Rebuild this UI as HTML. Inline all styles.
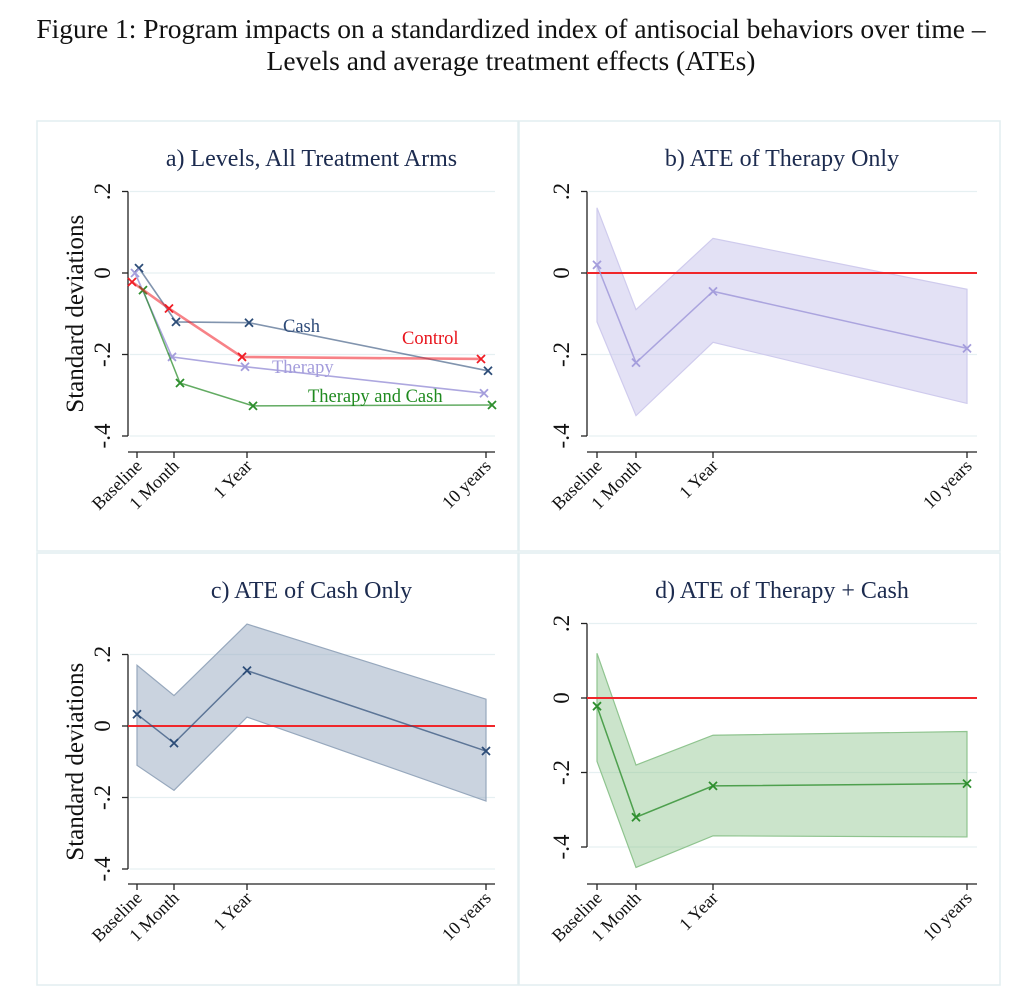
<!DOCTYPE html>
<html><head><meta charset="utf-8">
<style>
body{margin:0;background:#fff;width:1022px;height:1007px;overflow:hidden;font-family:"Liberation Serif",serif;}
#fig-title{position:absolute;left:0;top:13px;width:1022px;text-align:center;font-size:27.5px;line-height:32px;color:#111;white-space:nowrap;}
svg{position:absolute;left:0;top:0;}
</style></head>
<body>
<svg id="chart" width="1022" height="1007"></svg>
<div id="fig-title">Figure 1: Program impacts on a standardized index of antisocial behaviors over time –<br>Levels and average treatment effects (ATEs)</div>
<script>
const categories = ["Baseline","1 Month","1 Year","10 years"];
const yTicks = [0.2, 0, -0.2, -0.4];
const yTickLabels = [".2","0","-.2","-.4"];
// Panel a: levels
const controlLevels = [-0.022, -0.087, -0.206, -0.211];
const cashLevels = [0.012, -0.12, -0.122, -0.24];
const therapyLevels = [0.0, -0.206, -0.23, -0.295];
const bothLevels = [-0.042, -0.27, -0.326, -0.324];
// Panel b: therapy ATE
const therapyATE = [0.02, -0.22, -0.045, -0.185];
const therapyLo = [-0.12, -0.35, -0.17, -0.32];
const therapyHi = [0.16, -0.09, 0.085, -0.04];
// Panel c: cash ATE
const cashATE = [0.033, -0.048, 0.155, -0.07];
const cashLo = [-0.11, -0.18, 0.025, -0.21];
const cashHi = [0.17, 0.085, 0.285, 0.075];
// Panel d: both ATE
const bothATE = [-0.022, -0.32, -0.236, -0.23];
const bothLo = [-0.17, -0.455, -0.37, -0.373];
const bothHi = [0.12, -0.18, -0.10, -0.09];

const NS="http://www.w3.org/2000/svg";
const svg=document.getElementById('chart');
function mk(tag,attrs,parent){const e=document.createElementNS(NS,tag);for(const k in attrs)e.setAttribute(k,attrs[k]);(parent||svg).appendChild(e);return e;}

function panel(cfg){
  const g=mk('g',{});
  
  
  const box=mk('rect',{x:cfg.bx,y:cfg.by,width:481,height:cfg.bh,fill:'#fff',stroke:'#e2eef0','stroke-width':1.5},g);
  
  
  const t=mk('text',{x:(cfg.axX+cfg.right)/2,y:cfg.by+45,'text-anchor':'middle','font-size':24,fill:'#1c2b4f'},g);
  t.textContent=cfg.title;
  
  
  const xs=cfg.xs;
  const X=i=>xs[i];
  const Y=v=>cfg.zeroY - v*cfg.scale;
  yTicks.forEach((v,i)=>{
    const gl=mk('line',{x1:cfg.axX+2,x2:cfg.right,y1:Y(v),y2:Y(v),stroke:'#e6f0f2','stroke-width':1.2},g);
    
    
    mk('line',{x1:cfg.axX-6,x2:cfg.axX,y1:Y(v),y2:Y(v),stroke:'#222','stroke-width':1.3},g);
    const tl=mk('text',{x:0,y:0,'text-anchor':'middle','font-size':23,fill:'#111',transform:`translate(${cfg.axX-18},${Y(v)}) rotate(-90)`},g);
    tl.textContent=yTickLabels[i];
    
    
  });
  mk('line',{x1:cfg.axX,x2:cfg.axX,y1:Y(0.2),y2:Y(-0.4),stroke:'#222','stroke-width':1.3},g);
  mk('line',{x1:cfg.axX,x2:cfg.right,y1:cfg.xAxY,y2:cfg.xAxY,stroke:'#222','stroke-width':1.3},g);
  categories.forEach((c,i)=>{
    mk('line',{x1:X(i),x2:X(i),y1:cfg.xAxY,y2:cfg.xAxY+6,stroke:'#222','stroke-width':1.3},g);
    const xl=mk('text',{x:0,y:0,'text-anchor':'end','font-size':18,fill:'#111',transform:`translate(${X(i)+6},${cfg.xAxY+15}) rotate(-45)`},g);
    xl.textContent=c;
    
    
  });
  if(cfg.ytitle){
    const yt=mk('text',{x:0,y:0,'text-anchor':'middle','font-size':25,fill:'#111',transform:`translate(${cfg.axX-45},${Y(-0.1)}) rotate(-90)`},g);
    yt.textContent='Standard deviations';
    
    
  }
  return {g,X,Y};
}
function marker(g,x,y,color,name){
  const m=mk('path',{d:`M${x-4},${y-4}L${x+4},${y+4}M${x-4},${y+4}L${x+4},${y-4}`,stroke:color,'stroke-width':1.8,fill:'none'},g);
  
  
}
function series(p,vals,off,color,width,opacity,name){
  const pts=vals.map((v,i)=>[p.X(i)+off,p.Y(v)]);
  const l=mk('polyline',{points:pts.map(q=>q.join(',')).join(' '),fill:'none',stroke:color,'stroke-width':width,'stroke-opacity':opacity},p.g);
  
  
  pts.forEach(q=>marker(p.g,q[0],q[1],color,name+'-point'));
}
function band(p,lo,hi,fill,stroke,name){
  const up=hi.map((v,i)=>[p.X(i),p.Y(v)]);
  const dn=lo.map((v,i)=>[p.X(i),p.Y(v)]).reverse();
  const b=mk('polygon',{points:up.concat(dn).map(q=>q.join(',')).join(' '),fill:fill,stroke:stroke,'stroke-width':1.2},p.g);
  
  
}
function zeroLine(p,cfg){
  const z=mk('line',{x1:cfg.axX,x2:cfg.right,y1:p.Y(0),y2:p.Y(0),stroke:'#f0262a','stroke-width':2},p.g);
  
  
}

const cfgA={name:'panel-a-levels',title:'a) Levels, All Treatment Arms',bx:37,by:121,bh:430,axX:128,right:495,zeroY:273,scale:407.5,xAxY:452,xs:[137,174,247,486],ytitle:true};
const pa=panel(cfgA);
series(pa,cashLevels,2,'#2d4d78',1.6,0.6,'cash-levels');
series(pa,therapyLevels,-2,'#a49ddc',1.6,0.9,'therapy-levels');
series(pa,bothLevels,6,'#2e8f2e',1.5,0.75,'therapy-cash-levels');
series(pa,controlLevels,-5,'#f01c24',2.6,0.55,'control-levels');
[['Cash',283,332,'#2d4a78'],['Control',402,344,'#e8141c'],['Therapy',272,373,'#a49ddc'],['Therapy and Cash',308,402,'#1f8a1f']].forEach(a=>{
  const t=mk('text',{x:a[1],y:a[2],'font-size':18.5,fill:a[3]},pa.g);
  t.textContent=a[0];
  
  
});

const cfgB={name:'panel-b-therapy-ate',title:'b) ATE of Therapy Only',bx:519,by:121,bh:430,axX:587,right:977,zeroY:273,scale:407.5,xAxY:452,xs:[597,636,713,967],ytitle:false};
const pb=panel(cfgB);
band(pb,therapyLo,therapyHi,'rgba(200,196,236,0.5)','#cfcbed','therapy-ci-band');
zeroLine(pb,cfgB);
series(pb,therapyATE,0,'#a49ddc',1.5,0.9,'therapy-ate');

const cfgC={name:'panel-c-cash-ate',title:'c) ATE of Cash Only',bx:37,by:553,bh:432,axX:128,right:495,zeroY:726,scale:357.5,xAxY:884,xs:[137,174,247,486],ytitle:true};
const pc=panel(cfgC);
band(pc,cashLo,cashHi,'rgba(150,168,192,0.5)','#97a8bd','cash-ci-band');
zeroLine(pc,cfgC);
series(pc,cashATE,0,'#2d4d78',1.5,0.7,'cash-ate');

const cfgD={name:'panel-d-therapy-cash-ate',title:'d) ATE of Therapy + Cash',bx:519,by:553,bh:432,axX:587,right:977,zeroY:698,scale:372.5,xAxY:884,xs:[597,636,713,967],ytitle:false};
const pd=panel(cfgD);
band(pd,bothLo,bothHi,'rgba(140,196,140,0.45)','#8fc48f','therapy-cash-ci-band');
zeroLine(pd,cfgD);
series(pd,bothATE,0,'#2e8f2e',1.5,0.8,'therapy-cash-ate');
</script>
</body></html>
